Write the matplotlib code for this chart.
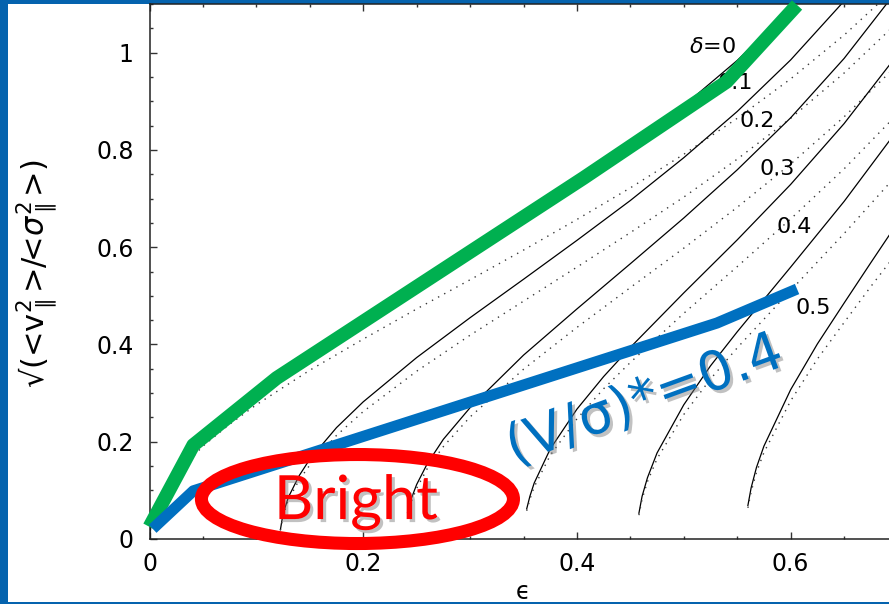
import matplotlib
matplotlib.use("Agg")
import matplotlib.pyplot as plt
import matplotlib.patheffects as pe
from matplotlib.patches import Ellipse, Rectangle
from matplotlib.ticker import MultipleLocator, FuncFormatter

# ---- anisotropy curves: sqrt(<v^2>/<sigma^2>) against ellipticity ----
# delta = 0
eps_d0 = [0, 0.002, 0.005, 0.01, 0.025, 0.05, 0.075, 0.1, 0.15, 0.2, 0.25, 0.3,
          0.35, 0.4, 0.45, 0.5, 0.55, 0.6, 0.65, 0.7]
solid_d0 = [0, 0.040, 0.063, 0.090, 0.143, 0.205, 0.255, 0.298, 0.375, 0.447, 0.515,
            0.584, 0.655, 0.728, 0.806, 0.891, 0.984, 1.090, 1.212, 1.358]
dotted_d0 = [0, 0.037, 0.059, 0.084, 0.133, 0.191, 0.236, 0.276, 0.347, 0.411, 0.473,
             0.533, 0.594, 0.657, 0.722, 0.791, 0.865, 0.946, 1.036, 1.137]

# delta = 0.1
eps_d1 = [0.1225, 0.125, 0.13, 0.14, 0.15, 0.175, 0.2, 0.25, 0.3, 0.35, 0.4, 0.45,
          0.5, 0.55, 0.6, 0.65, 0.7]
solid_d1 = [0.019, 0.052, 0.086, 0.130, 0.164, 0.229, 0.282, 0.373, 0.455, 0.534,
            0.614, 0.696, 0.784, 0.879, 0.985, 1.106, 1.249]
dotted_d1 = [0.018, 0.048, 0.081, 0.121, 0.152, 0.213, 0.262, 0.345, 0.419, 0.489,
             0.559, 0.630, 0.703, 0.781, 0.865, 0.958, 1.062]

# delta = 0.2
eps_d2 = [0.2415, 0.245, 0.25, 0.26, 0.275, 0.3, 0.35, 0.4, 0.45, 0.5, 0.55, 0.6,
          0.65, 0.7]
solid_d2 = [0.055, 0.083, 0.112, 0.155, 0.205, 0.270, 0.378, 0.473, 0.566, 0.660,
            0.759, 0.866, 0.988, 1.129]
dotted_d2 = [0.051, 0.077, 0.104, 0.145, 0.190, 0.251, 0.349, 0.435, 0.517, 0.598,
             0.682, 0.771, 0.868, 0.975]

# delta = 0.3
eps_d3 = [0.353, 0.356, 0.36, 0.375, 0.4, 0.425, 0.45, 0.5, 0.55, 0.6, 0.65, 0.7]
solid_d3 = [0.062, 0.088, 0.115, 0.185, 0.267, 0.334, 0.394, 0.506, 0.615, 0.729,
            0.854, 0.996]
dotted_d3 = [0.058, 0.082, 0.107, 0.172, 0.247, 0.309, 0.363, 0.464, 0.560, 0.658,
             0.761, 0.874]

# delta = 0.4
eps_d4 = [0.458, 0.461, 0.466, 0.475, 0.5, 0.525, 0.55, 0.6, 0.65, 0.7]
solid_d4 = [0.053, 0.088, 0.126, 0.177, 0.276, 0.356, 0.426, 0.559, 0.694, 0.841]
dotted_d4 = [0.049, 0.082, 0.118, 0.165, 0.256, 0.329, 0.393, 0.511, 0.628, 0.750]

# delta = 0.5
eps_d5 = [0.560, 0.563, 0.568, 0.575, 0.6, 0.625, 0.65, 0.675, 0.7]
solid_d5 = [0.069, 0.105, 0.147, 0.191, 0.307, 0.401, 0.485, 0.568, 0.650]
dotted_d5 = [0.064, 0.097, 0.137, 0.178, 0.284, 0.370, 0.445, 0.519, 0.590]

# curve labels and their positions
delta_labels = [r"$\delta$=0", "0.1", "0.2", "0.3", "0.4", "0.5"]
delta_label_x = [0.527, 0.548, 0.5685, 0.587, 0.603, 0.621]
delta_label_y = [1.012, 0.938, 0.859, 0.761, 0.641, 0.475]

# hand-drawn overlays
green_x = [0.0, 0.041, 0.119, 0.406, 0.540, 0.606]
green_y = [0.025, 0.193, 0.331, 0.742, 0.940, 1.098]
blue_x = [0.003, 0.041, 0.531, 0.606]
blue_y = [0.021, 0.099, 0.444, 0.514]
bright_center = (0.1946, 0.0822)
bright_size = (0.292, 0.183)

x_ticks = [0, 0.2, 0.4, 0.6]
y_ticks = [0, 0.2, 0.4, 0.6, 0.8, 1.0]

SLIDE_BLUE = "#0563AE"
GREEN = "#00B050"
BLUE = "#0070C0"
RED = "#FF0000"

plt.rcParams["font.family"] = ["DejaVu Sans"]
plt.rcParams["mathtext.fontset"] = "dejavusans"

W, H = 889, 604
fig = plt.figure(figsize=(W / 100, H / 100), dpi=100)
fig.patch.set_facecolor(SLIDE_BLUE)
fig.add_artist(Rectangle((8 / W, 2 / H), 1.0, 1 - 6 / H, transform=fig.transFigure,
                         facecolor="white", edgecolor="none", zorder=0))

ax = fig.add_axes([149.5 / W, 1 - 539 / H, 748 / W, 535 / H])
ax.set_facecolor("white")
ax.set_xlim(0, 0.7)
ax.set_ylim(0, 1.1)

curves = [
    (eps_d0, solid_d0, dotted_d0),
    (eps_d1, solid_d1, dotted_d1),
    (eps_d2, solid_d2, dotted_d2),
    (eps_d3, solid_d3, dotted_d3),
    (eps_d4, solid_d4, dotted_d4),
    (eps_d5, solid_d5, dotted_d5),
]
for eps, sol, dot in curves:
    ax.plot(eps, sol, color="black", lw=0.9, zorder=2)
    ax.plot(eps, dot, color="#3a3a3a", lw=1.0, ls=(0, (1, 4)), zorder=2)

for lab, lx, ly in zip(delta_labels, delta_label_x, delta_label_y):
    ax.text(lx, ly, lab, ha="center", va="center", fontsize=16, zorder=3)

# overlays
ax.plot(green_x, green_y, color=GREEN, lw=10, solid_capstyle="butt",
        solid_joinstyle="round", clip_on=False, zorder=5)
ax.plot(blue_x, blue_y, color=BLUE, lw=8, solid_capstyle="butt",
        solid_joinstyle="round", clip_on=False, zorder=5)
ax.add_patch(Ellipse(bright_center, bright_size[0], bright_size[1], fill=False,
                     edgecolor=RED, lw=9.4, clip_on=False, zorder=6))

shadow = [pe.withSimplePatchShadow(offset=(2.2, -2.2), shadow_rgbFace="#777777", alpha=0.45)]
ax.text(0.1932, 0.041, "Bright", color=RED, fontsize=44, family=["Lato", "DejaVu Sans"],
        ha="center", va="baseline", zorder=7, path_effects=shadow)
ax.text(0.4683, 0.2556, "(V/\u03c3)*=0.4", color=BLUE, fontsize=39,
        ha="center", va="baseline", rotation=20, rotation_mode="anchor",
        zorder=7, path_effects=shadow)

# axes styling
ax.xaxis.set_major_locator(MultipleLocator(0.2))
ax.xaxis.set_minor_locator(MultipleLocator(0.05))
ax.yaxis.set_major_locator(MultipleLocator(0.2))
ax.yaxis.set_minor_locator(MultipleLocator(0.05))
fmt = FuncFormatter(lambda v, p: f"{v:g}")
ax.xaxis.set_major_formatter(fmt)
ax.yaxis.set_major_formatter(fmt)
ax.tick_params(which="both", direction="in", top=True, right=True, width=1.0,
               color="#333333", labelsize=17)
ax.tick_params(which="major", length=4.8)
ax.tick_params(which="minor", length=2.5)
ax.tick_params(axis="y", pad=11.5)
ax.tick_params(axis="x", pad=9.5)
for sp in ax.spines.values():
    sp.set_linewidth(1.1)
    sp.set_color("#222222")

ax.set_xlabel("\u03f5", fontsize=17, va="center")
ax.xaxis.set_label_coords(0.4993, -0.099)
fig.text(37 / W, 1 - 273.5 / H,
         "\u221a(<$\\mathrm{v}_{\\parallel}^{2}$>/<$\\sigma_{\\parallel}^{2}$>)",
         rotation=90, ha="center", va="center", fontsize=22)

fig.savefig("out.png", dpi=100, facecolor=fig.get_facecolor())
